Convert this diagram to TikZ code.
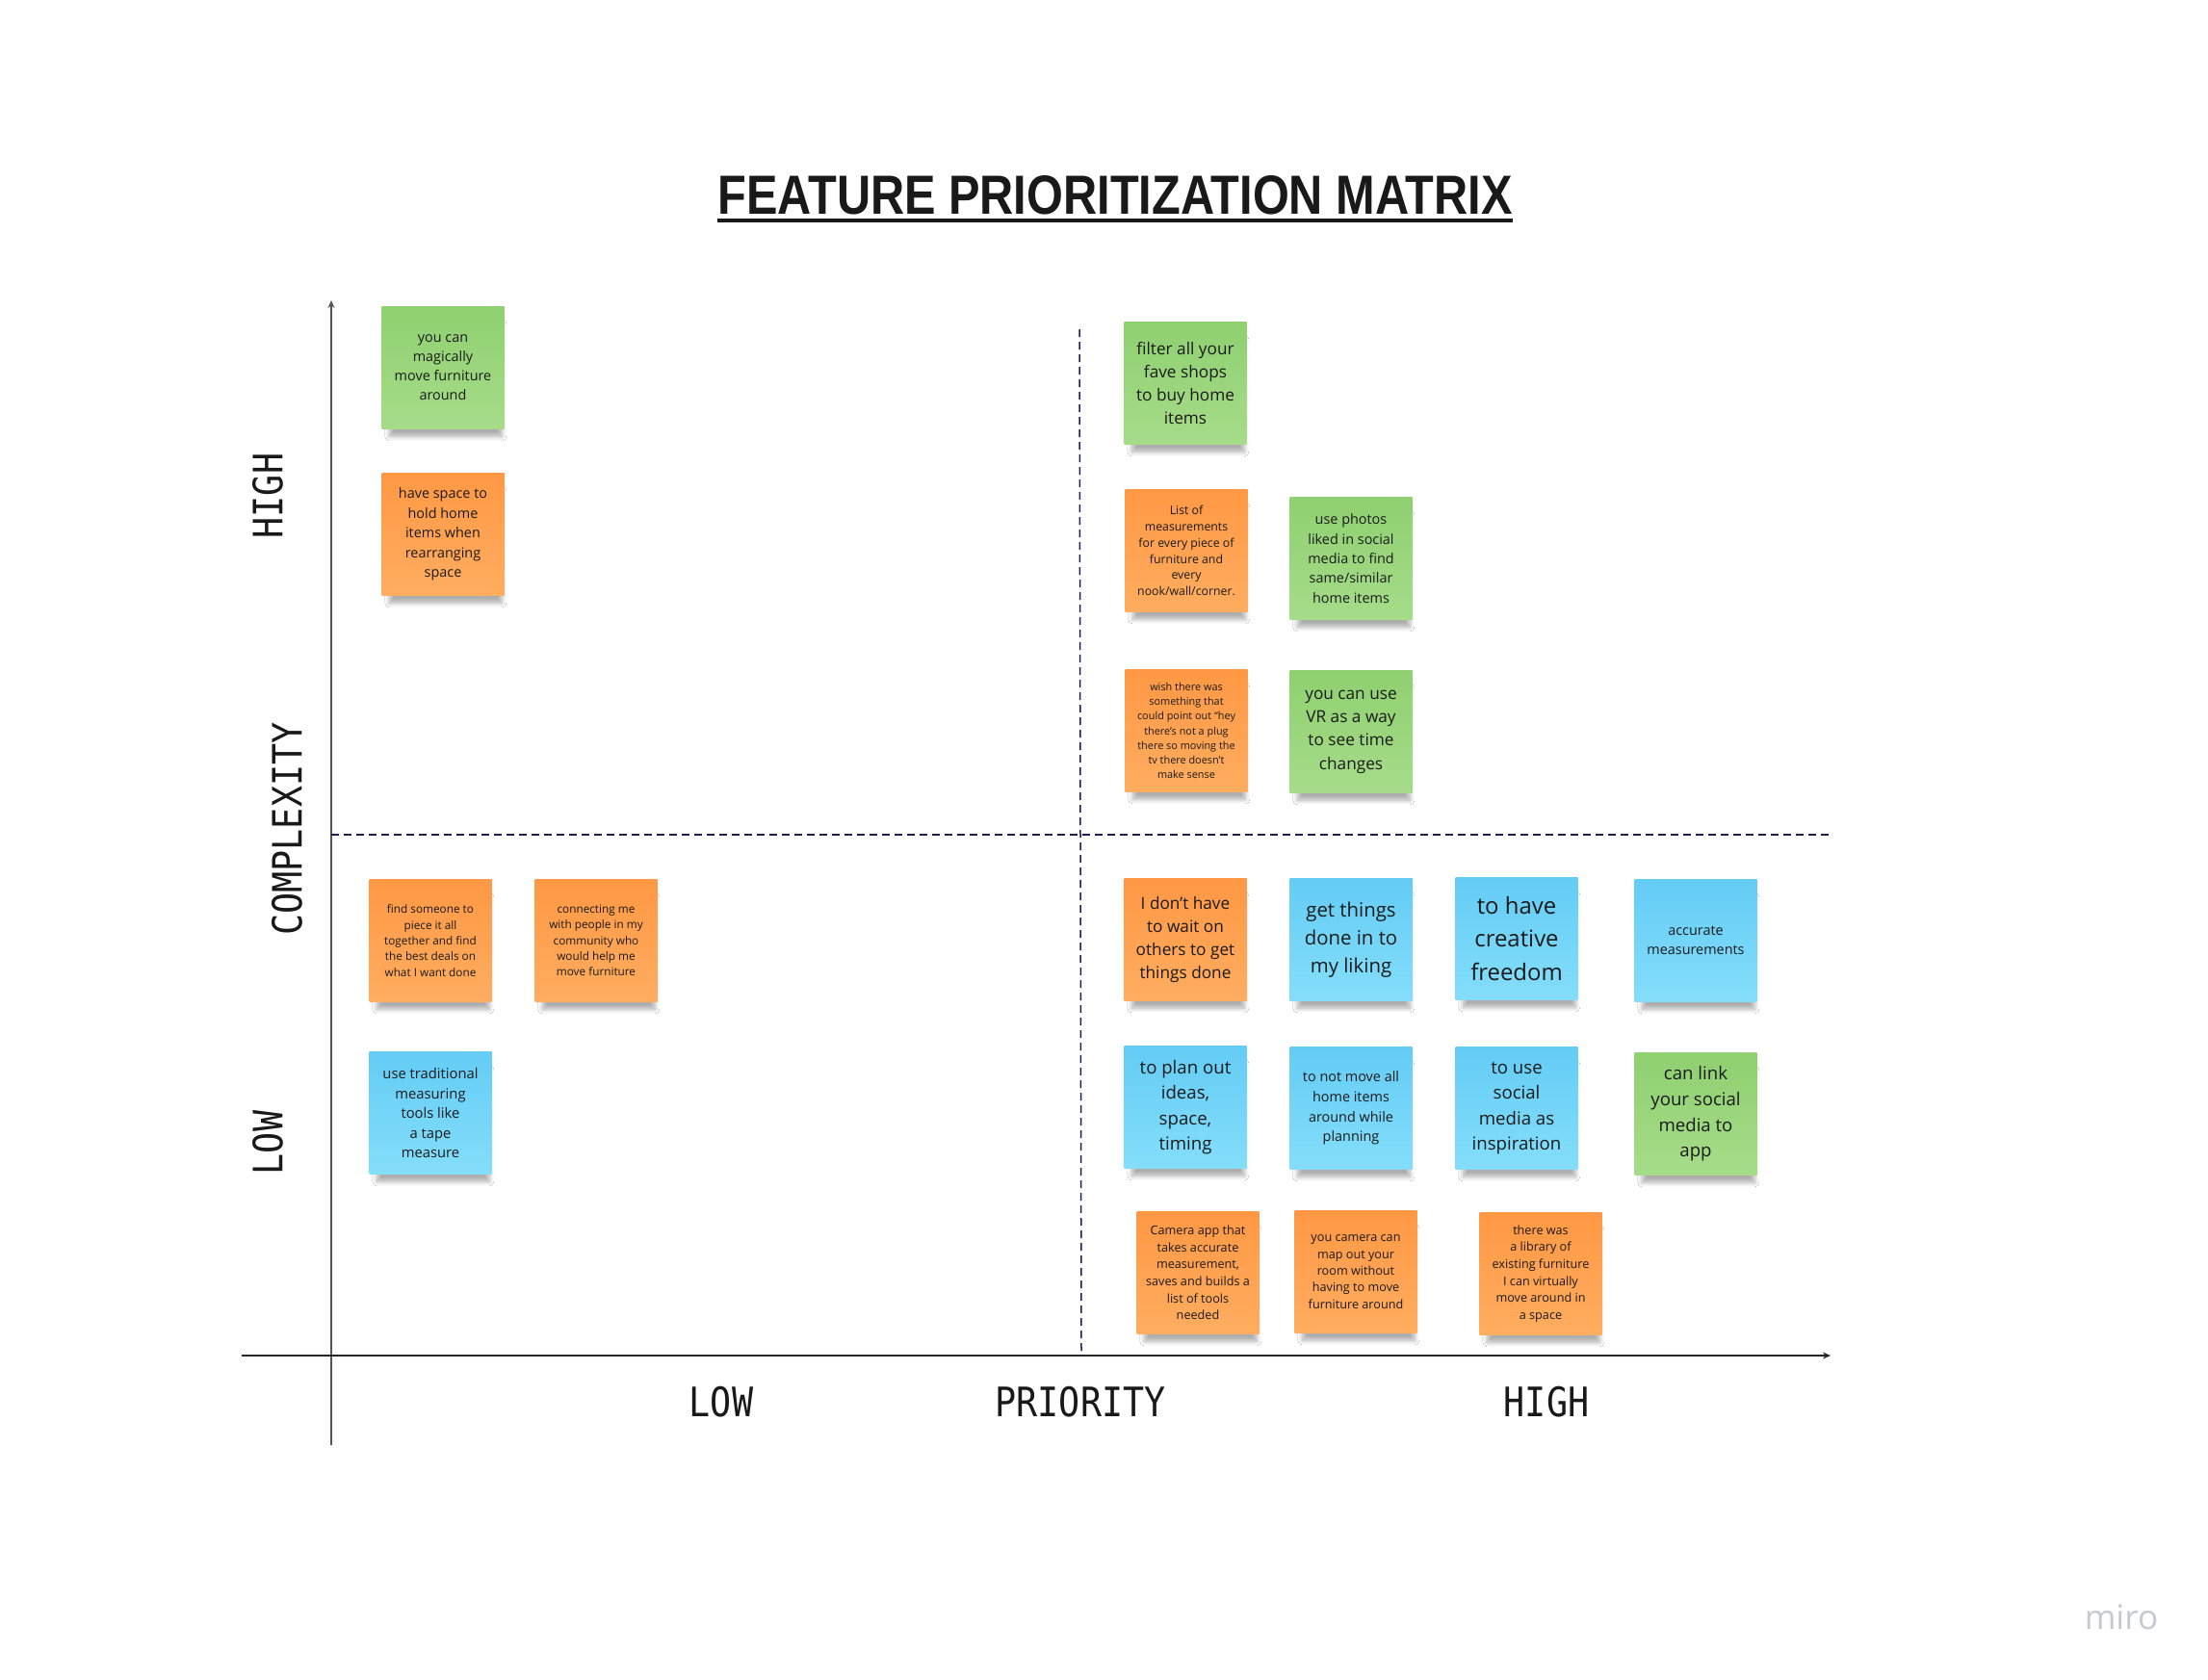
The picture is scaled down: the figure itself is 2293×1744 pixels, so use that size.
\documentclass[tikz,border=0pt]{standalone}
\usepackage{fontspec}
\setmainfont{Open Sans}
\newfontfamily\titlefont[FakeStretch=0.85]{Liberation Sans}
\newfontfamily\axisfont[FakeStretch=0.87]{DejaVu Sans Mono}
\usetikzlibrary{arrows.meta,shadows.blur}

\definecolor{greentop}{RGB}{143,208,112}
\definecolor{greenbot}{RGB}{166,220,137}
\definecolor{orangetop}{RGB}{255,152,68}
\definecolor{orangebot}{RGB}{255,173,96}
\definecolor{bluetop}{RGB}{100,204,245}
\definecolor{bluebot}{RGB}{132,222,250}
\definecolor{notetext}{RGB}{26,26,26}
\definecolor{axisgray}{RGB}{85,85,85}
\definecolor{dashnavy}{RGB}{30,30,80}
\definecolor{mirogray}{RGB}{200,200,210}

\tikzset{sticky/.style={minimum width=12.7mm, minimum height=12.7mm, inner sep=0pt, align=center, text=notetext,
    blur shadow={shadow xshift=0.3mm, shadow yshift=-1.4mm, shadow scale=0.92, shadow blur radius=0.5mm, shadow blur steps=8, shadow opacity=32}}}
\tikzset{greennote/.style={sticky, top color=greentop, bottom color=greenbot}}
\tikzset{orangenote/.style={sticky, top color=orangetop, bottom color=orangebot}}
\tikzset{bluenote/.style={sticky, top color=bluetop, bottom color=bluebot}}
\tikzset{axislabel/.style={font=\axisfont\fontsize{12}{14}\selectfont, text=black!90, inner sep=0pt}}
\tikzset{divider/.style={dashnavy, line width=0.15mm, dash pattern=on 0.8mm off 0.5mm}}

\begin{document}
\begin{tikzpicture}[x=0.1mm, y=-0.1mm]

  \useasboundingbox [fill=white] (0,0) rectangle (2293,1744);

  % title
  \node [font=\titlefont\bfseries\fontsize{16.3}{18}\selectfont, inner sep=0pt, anchor=base, text=black!90] (title) at (1158,222) {FEATURE PRIORITIZATION MATRIX};
  \draw [line width=0.4mm, black!90] ([yshift=-0.65mm]title.base west) to ([yshift=-0.65mm]title.base east);

  % axes
  \coordinate (ybot) at (344,1501);
  \coordinate (ytop) at (344,312);
  \coordinate (xleft) at (251,1408);
  \coordinate (xright) at (1901,1408);
  \coordinate (midleft) at (344,867);
  \coordinate (midright) at (1900,867);
  \coordinate (midtop) at (1121,342);
  \coordinate (midbot) at (1123,1408);

  \draw [axisgray, line width=0.2mm, -{Stealth[length=0.8mm,width=0.7mm]}] (ybot) to (ytop);
  \draw [black!85, line width=0.2mm, -{Stealth[length=0.8mm,width=0.7mm]}] (xleft) to (xright);
  \draw [style = divider] (midleft) to (midright);
  \draw [style = divider] (midtop) to (midbot);

  % notes, high complexity / low priority
  \node [style = greennote, font=\fontsize{4.1}{5.7}\selectfont] (magic) at (460,382) {you can\\magically\\move furniture\\around};
  \node [style = orangenote, font=\fontsize{4.1}{5.8}\selectfont] (storage) at (460,555) {have space to\\hold home\\items when\\rearranging\\space};

  % notes, high complexity / high priority
  \node [style = greennote, font=\fontsize{4.9}{6.9}\selectfont] (shops) at (1231,398) {filter all your\\fave shops\\to buy home\\items};
  \node [style = orangenote, font=\fontsize{3.5}{4.8}\selectfont] (measlist) at (1232,572) {List of\\measurements\\for every piece of\\furniture and\\every\\nook/wall/corner.};
  \node [style = greennote, font=\fontsize{4.1}{5.8}\selectfont] (photos) at (1403,580) {use photos\\liked in social\\media to find\\same/similar\\home items};
  \node [style = orangenote, font=\fontsize{3.1}{4.3}\selectfont] (plug) at (1232,759) {wish there was\\something that\\could point out “hey\\there’s not a plug\\there so moving the\\tv there doesn’t\\make sense};
  \node [style = greennote, font=\fontsize{4.9}{6.9}\selectfont] (vr) at (1403,760) {you can use\\VR as a way\\to see time\\changes};

  % notes, low complexity / low priority
  \node [style = orangenote, font=\fontsize{3.35}{4.65}\selectfont] (helper) at (447,977) {find someone to\\piece it all\\together and find\\the best deals on\\what I want done};
  \node [style = orangenote, font=\fontsize{3.35}{4.65}\selectfont] (community) at (619,977) {connecting me\\with people in my\\community who\\would help me\\move furniture};
  \node [style = bluenote, font=\fontsize{4.2}{5.85}\selectfont] (tape) at (447,1156) {use traditional\\measuring\\tools like\\a tape\\measure};

  % notes, low complexity / high priority
  \node [style = orangenote, font=\fontsize{4.9}{6.9}\selectfont] (nowait) at (1231,976) {I don{\char"0027}t have\\to wait on\\others to get\\things done};
  \node [style = bluenote, font=\fontsize{5.8}{8.3}\selectfont] (liking) at (1403,976) {get things\\done in to\\my liking};
  \node [style = bluenote, font=\fontsize{6.8}{9.8}\selectfont] (freedom) at (1575,975) {to have\\creative\\freedom};
  \node [style = bluenote, font=\fontsize{4.1}{5.7}\selectfont] (accurate) at (1761,977) {accurate\\measurements};
  \node [style = bluenote, font=\fontsize{5.3}{7.5}\selectfont] (plan) at (1231,1150) {to plan out\\ideas,\\space,\\timing};
  \node [style = bluenote, font=\fontsize{4.1}{5.85}\selectfont] (nomove) at (1403,1151) {to not move all\\home items\\around while\\planning};
  \node [style = bluenote, font=\fontsize{5.3}{7.5}\selectfont] (inspire) at (1575,1151) {to use\\social\\media as\\inspiration};
  \node [style = greennote, font=\fontsize{5.3}{7.6}\selectfont] (link) at (1761,1157) {can link\\your social\\media to\\app};
  \node [style = orangenote, font=\fontsize{3.6}{5.0}\selectfont] (camapp) at (1244,1322) {Camera app that\\takes accurate\\measurement,\\saves and builds a\\list of tools\\needed};
  \node [style = orangenote, font=\fontsize{3.6}{4.95}\selectfont] (mapout) at (1408,1321) {you camera can\\map out your\\room without\\having to move\\furniture around};
  \node [style = orangenote, font=\fontsize{3.6}{5.0}\selectfont] (library) at (1600,1323) {there was\\a library of\\existing furniture\\I can virtually\\move around in\\a space};

  % axis labels
  \node [style = axislabel, rotate=90] (yhigh) at (278,515) {HIGH};
  \node [style = axislabel, rotate=90] (ycomplex) at (298,861) {COMPLEXITY};
  \node [style = axislabel, rotate=90] (ylow) at (278,1187) {LOW};
  \node [style = axislabel] (xlow) at (749,1456) {LOW};
  \node [style = axislabel] (xprio) at (1122,1456) {PRIORITY};
  \node [style = axislabel] (xhigh) at (1606,1456) {HIGH};

  % watermark
  \node [font=\fontsize{10}{12}\selectfont, text=mirogray, inner sep=0pt] (miro) at (2203,1680) {miro};

\end{tikzpicture}
\end{document}
